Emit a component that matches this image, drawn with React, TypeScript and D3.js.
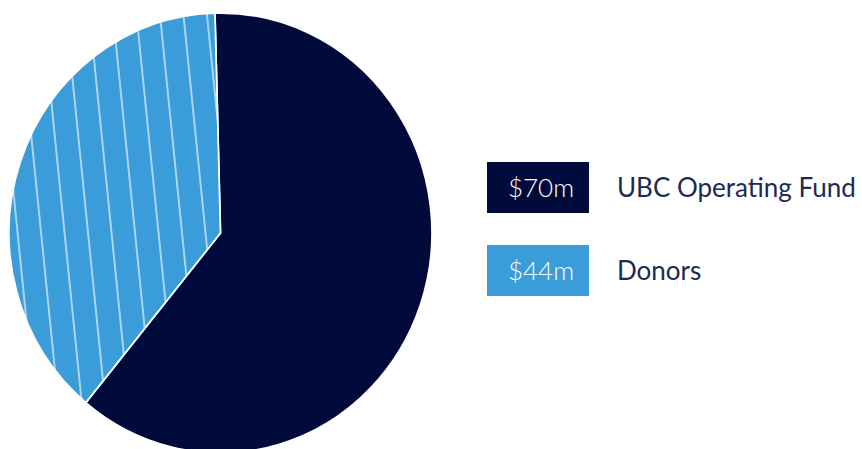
import React from "react";
import * as d3 from "d3";

const categories = ["UBC Operating Fund", "Donors"];
const values = [70, 44];
const valueLabels = ["$70m", "$44m"];
const colors = ["#010b3b", "#3a9cd9"];

const W = 862;
const H = 449;
const cx = 220.5;
const cy = 233;
const R = 220;
const sx = 211.5 / 220;
const startDeg = -1.5;
const hatchW = 24.3;

export default function App() {
  const pie = d3
    .pie<number>()
    .sort(null)
    .startAngle((startDeg * Math.PI) / 180)
    .endAngle((startDeg * Math.PI) / 180 + 2 * Math.PI);
  const arcs = pie(values);
  const arc = d3.arc<d3.PieArcDatum<number>>().innerRadius(0).outerRadius(R);

  const font = "Lato, 'Open Sans', sans-serif";
  const legendX = 487;
  const boxW = 102;
  const boxH = 51;
  const legendY = d3.scalePoint<string>().domain(categories).range([162, 245]);

  return (
    <svg
      width={W}
      height={H}
      style={{ position: "absolute", left: 0, top: 0, background: "#fff" }}
    >
      <defs>
        <pattern
          id="hatch"
          patternUnits="userSpaceOnUse"
          x={-15.5 - hatchW / 2}
          y={0}
          width={hatchW}
          height={20}
          patternTransform="rotate(-6)"
        >
          <rect width={hatchW} height={20} fill={colors[1]} />
          <line x1={hatchW / 2} x2={hatchW / 2} y1={-1} y2={21} stroke="#d2ebfb" strokeWidth={1.5} />
        </pattern>
      </defs>
      <g transform={`translate(${cx},${cy}) scale(${sx},1)`}>
        {arcs.map((a, i) => (
          <path
            key={i}
            d={arc(a) || ""}
            fill={i === 1 ? "url(#hatch)" : colors[i]}
            stroke="#ffffff"
            strokeWidth={1.8}
            strokeLinejoin="miter"
          />
        ))}
      </g>
      {categories.map((c, i) => {
        const y = legendY(c) as number;
        return (
          <g key={c}>
            <rect x={legendX} y={y} width={boxW} height={boxH} fill={colors[i]} />
            <text
              x={legendX + boxW / 2 + 3}
              y={y + 35}
              textAnchor="middle"
              fill="#ffffff"
              fontFamily={font}
              fontWeight={300}
              fontSize={26}
            >
              {valueLabels[i]}
            </text>
            <text
              x={617}
              y={y + 35}
              fill="#1d2a52"
              fontFamily={font}
              fontWeight={400}
              fontSize={26}
            >
              {c}
            </text>
          </g>
        );
      })}
    </svg>
  );
}
